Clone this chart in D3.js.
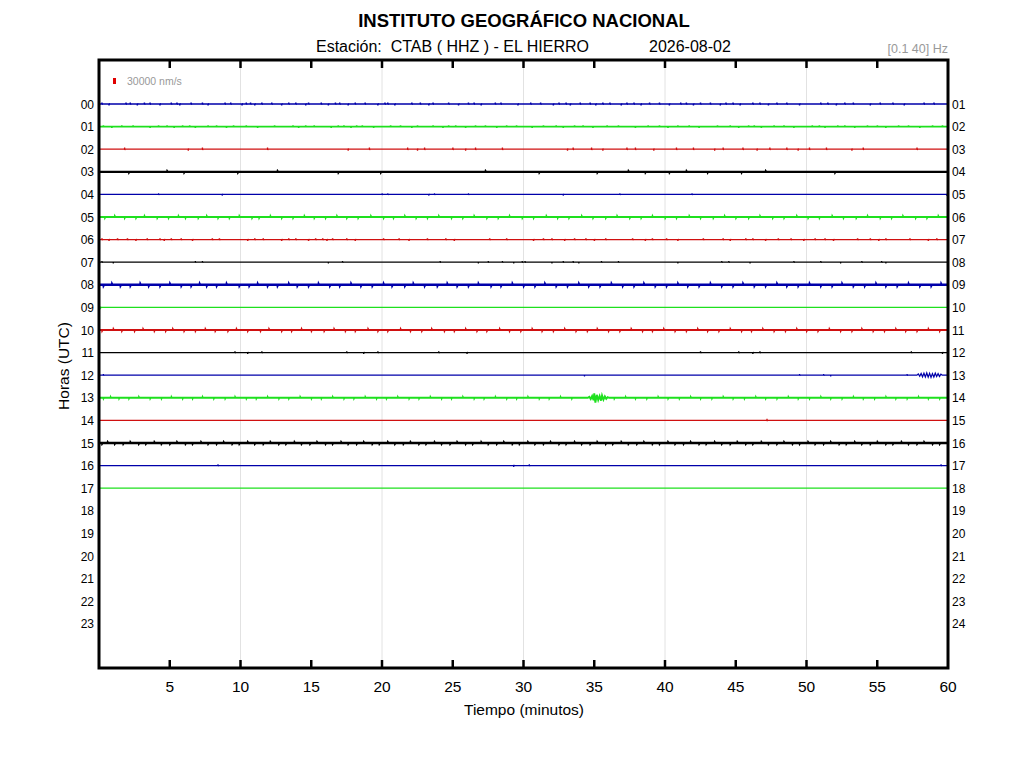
<!DOCTYPE html>
<html>
<head>
<meta charset="utf-8">
<script src="https://cdn.jsdelivr.net/npm/d3@7"></script>
<style>
  body { margin: 0; background: #fff; }
  text { font-family: "Liberation Sans", Arial, sans-serif; }
</style>
</head>
<body>
<script>
var leftLabels = ["00","01","02","03","04","05","06","07","08","09","10","11",
                  "12","13","14","15","16","17","18","19","20","21","22","23"];
var rightLabels = ["01","02","03","04","05","06","07","08","09","10","11","12",
                   "13","14","15","16","17","18","19","20","21","22","23","24"];
var minuteTicks = [5,10,15,20,25,30,35,40,45,50,55,60];
var gridMinutes = [10,20,30,40,50];

// background noise level per hour (nm/s), only hours with data
var rowNoise = [3000,4000,2000,9000,1000,7000,3000,1500,10000,1500,7000,2000,1500,6000,1500,10000,1500,1500];
// typical spike height per hour (nm/s)
var rowSpikeAmp = [7000,6000,8000,3000,6000,4000,6000,6000,4000,4000,4000,6000,6000,4000,8000,3000,7000,0];

// spike positions (minutes)
var rowSpikes = [
  [0.2,0.7,1.9,2.2,2.7,3.2,3.6,4.3,5.1,5.5,5.7,6.5,7.3,7.7,8.9,9.3,10.1,10.4,10.7,11.0,11.5,12.2,12.9,13.4,13.9,14.6,14.8,15.7,16.2,16.7,17.0,17.6,18.1,18.8,19.7,20.2,20.4,20.9,22.1,22.7,23.3,23.6,24.7,25.4,26.1,26.5,27.0,28.0,28.4,29.6,30.5,31.2,32.1,32.5,33.0,33.3,34.0,34.7,35.1,35.6,36.1,36.9,37.3,37.8,38.3,38.9,39.6,40.3,41.1,41.5,42.0,42.5,43.2,43.9,44.3,44.8,45.3,46.2,46.7,47.3,47.9,48.6,49.5,51.0,51.5,52.1,52.7,53.3,54.5,55.2,56.1,56.9,58.3,59.0],
  [0.3,0.9,1.6,2.4,3.6,4.2,4.8,5.3,5.9,6.4,6.8,7.7,8.3,9.0,9.5,10.4,11.2,12.4,13.7,14.1,14.6,15.2,16.4,16.9,17.3,17.8,18.2,18.6,19.4,20.6,21.3,22.1,22.5,23.6,24.3,24.7,25.2,25.9,26.6,27.3,28.1,28.8,29.5,30.6,31.4,32.3,32.8,33.6,34.2,34.9,35.9,36.7,37.9,38.8,39.6,40.2,40.9,41.7,42.4,43.7,44.6,45.2,45.9,46.3,46.8,47.7,48.4,49.1,50.4,50.9,51.3,52.2,52.7,53.4,54.3,55.0,55.6,56.5,57.2,58.0,58.9,59.6],
  [1.8,6.3,7.3,11.9,17.6,19.1,21.8,22.5,23.0,25.0,25.9,26.6,28.5,33.1,33.5,34.8,35.6,37.3,37.9,39.2,40.8,42.0,43.5,44.1,45.5,46.5,47.4,48.6,49.4,50.2,51.4,53.2,54.0,57.8],
  [2.1,4.8,6.0,9.8,12.6,16.9,19.9,27.3,31.1,35.2,37.4,38.6,40.3,41.5,43.0,45.4,47.1,52.0],
  [4.2,8.7,20.0,20.4,23.3,23.7,26.1,32.8,36.8,41.9,59.9],
  [0.4,1.1,1.8,2.6,3.2,4.1,4.9,5.6,6.1,7.0,7.6,8.4,9.2,9.9,10.8,11.3,12.1,12.9,13.7,14.5,15.2,16.0,16.8,17.5,18.3,19.2,20.1,20.8,21.6,22.4,23.2,24.0,24.9,25.7,26.5,27.4,28.2,29.0,29.9,30.7,31.6,32.4,33.2,34.1,34.9,35.8,36.6,37.5,38.3,39.1,40.0,40.8,41.7,42.5,43.4,44.2,45.0,45.9,46.7,47.6,48.4,49.3,50.1,50.9,51.8,52.6,53.5,54.3,55.2,56.0,56.8,57.7,58.5,59.3],
  [0.2,0.7,1.3,2.0,2.6,3.4,4.3,4.6,5.1,5.8,6.6,8.0,8.5,10.5,11.0,11.6,12.9,13.4,13.9,14.8,15.3,15.8,16.1,16.5,17.5,18.1,20.1,21.2,21.9,23.2,24.5,25.1,27.6,28.8,30.7,31.4,32.0,32.9,33.6,34.4,35.0,35.8,37.7,38.6,39.1,40.1,40.9,42.7,44.1,44.6,45.7,46.2,47.1,48.0,48.9,49.8,50.6,51.3,51.9,53.6,54.5,55.1,55.6,57.3,58.6,59.2],
  [0.2,1.0,6.8,7.3,16.2,17.2,24.1,26.8,27.5,28.5,29.3,29.9,30.1,32.0,32.8,33.5,33.9,35.5,36.7,40.9,44.0,44.5,46.0,49.1,51.0,52.4,53.9,55.3,55.6],
  [0.3,0.9,1.5,2.2,2.9,3.5,4.3,5.0,5.8,6.5,7.1,7.6,8.3,9.0,9.9,10.6,11.2,11.9,12.6,13.4,14.0,14.8,15.5,16.3,17.0,17.8,18.5,19.3,20.1,20.7,21.6,22.2,23.0,23.9,24.6,25.3,26.1,26.8,27.7,28.4,29.2,30.0,30.8,31.5,32.3,33.1,33.9,34.6,35.4,36.2,37.0,37.8,38.5,39.3,40.1,40.9,41.6,42.4,43.2,44.0,44.8,45.5,46.3,47.1,47.9,48.6,49.4,50.2,51.0,51.8,52.5,53.3,54.1,54.9,55.6,56.4,57.2,58.0,58.8,59.5],
  [0.1],
  [0.2,1.0,1.6,2.5,3.1,3.9,4.7,5.2,6.0,6.8,7.5,8.2,9.1,9.7,10.5,11.4,12.0,12.9,13.6,14.3,15.0,15.9,16.6,17.4,18.1,19.0,19.7,20.4,21.3,22.0,22.8,23.5,24.4,25.1,25.9,26.7,27.4,28.3,29.0,29.8,30.6,31.3,32.1,32.9,33.7,34.5,35.2,36.0,36.8,37.6,38.4,39.1,39.9,40.7,41.5,42.3,43.0,43.8,44.6,45.4,46.1,46.9,47.7,48.5,49.3,50.0,50.8,51.6,52.4,53.2,53.9,54.7,55.5,56.3,57.0,57.8,58.6,59.4],
  [9.6,10.5,11.5,17.5,18.7,19.7,24.0,26.0,42.5,45.2,46.2,46.7,57.4,59.6],
  [0.3,34.3,49.5,51.2,51.7,57.1],
  [0.3,0.8,1.4,2.1,2.8,3.6,4.4,5.1,5.9,6.6,7.3,8.1,8.9,9.6,10.4,11.1,11.9,12.7,13.4,14.2,15.0,15.7,16.5,17.3,18.0,18.8,19.6,20.3,21.1,21.9,22.6,23.4,24.2,24.9,25.7,26.5,27.2,28.0,28.8,29.5,30.3,31.1,31.8,32.6,33.4,36.4,37.2,37.9,38.7,39.5,40.2,41.0,41.8,42.5,43.3,44.1,44.8,45.6,46.4,47.1,47.9,48.7,49.4,50.2,51.0,51.7,52.5,53.3,54.0,54.8,55.6,56.3,57.1,57.9,58.6,59.4],
  [47.2],
  [0.2,0.6,1.1,1.7,2.2,2.8,3.3,3.9,4.4,5.0,5.5,6.1,6.6,7.2,7.7,8.3,8.8,9.4,9.9,10.5,11.0,11.6,12.1,12.7,13.2,13.8,14.3,14.9,15.4,16.0,16.5,17.1,17.6,18.2,18.7,19.3,19.8,20.4,20.9,21.5,22.0,22.6,23.1,23.7,24.2,24.8,25.3,25.9,26.4,27.0,27.5,28.1,28.6,29.2,29.7,30.3,30.8,31.4,31.9,32.5,33.0,33.6,34.1,34.7,35.2,35.8,36.3,36.9,37.4,38.0,38.5,39.1,39.6,40.2,40.7,41.3,41.8,42.4,42.9,43.5,44.0,44.6,45.1,45.7,46.2,46.8,47.3,47.9,48.4,49.0,49.5,50.1,50.6,51.2,51.7,52.3,52.8,53.4,53.9,54.5,55.0,55.6,56.1,56.7,57.2,57.8,58.3,58.9,59.4],
  [8.4,29.3,30.4,59.5],
  []
];

// larger transients: [minute, nm/s]
var event12 = [[57.8,0],[57.9,6000],[58.0,-5000],[58.1,9000],[58.2,-8000],[58.3,10000],[58.4,-9000],[58.5,11000],[58.6,-10000],[58.7,9000],[58.8,-11000],[58.9,8000],[59.0,-9000],[59.1,10000],[59.2,-7000],[59.3,8000],[59.4,-6000],[59.5,5000],[59.6,0]];
var event13 = [[34.55,0],[34.65,5000],[34.75,-6000],[34.85,9000],[34.95,-12000],[35.0,22000],[35.08,-24000],[35.18,15000],[35.28,-11000],[35.38,9000],[35.48,-14000],[35.55,12000],[35.65,-9000],[35.75,7000],[35.85,-5000],[35.95,3000],[36.05,0]];

var scaleBarValue = 30000; // nm/s
var traceColors = ["#0000aa", "#1ee01e", "#d01010", "#000000"];

// ---- layout ----
var svg = d3.select("body").append("svg")
    .attr("width", 1024)
    .attr("height", 768);

var plotLeft = 99, plotRight = 948, plotTop = 60, plotBottom = 668;

var x = d3.scaleLinear().domain([0, 60]).range([plotLeft, plotRight]);
var y = d3.scaleLinear().domain([0, 23]).range([104, 104 + 23 * 22.6]);
var amp = d3.scaleLinear().domain([0, scaleBarValue]).range([0, 6]);

svg.append("rect").attr("width", 1024).attr("height", 768).attr("fill", "#fff");

// grid
svg.selectAll(".grid").data(gridMinutes).enter().append("line")
    .attr("x1", function(d){ return x(d); })
    .attr("x2", function(d){ return x(d); })
    .attr("y1", plotTop).attr("y2", plotBottom)
    .attr("stroke", "#e2e2e2").attr("stroke-width", 1);

// traces
var line = d3.line()
    .x(function(d){ return x(d[0]); })
    .y(function(d){ return d[1]; });

rowSpikes.forEach(function(spikes, r){
    var base = y(r);
    var a = rowSpikeAmp[r];
    var pts = [[0, 0]];
    spikes.forEach(function(m, i){
        var s = (i % 3 === 1) ? -1 : 1;
        pts.push([m, 0], [m + 0.01, s * a], [m + 0.025, -s * a * 0.5], [m + 0.04, 0]);
    });
    if (r === 12) pts = pts.concat(event12);
    if (r === 13) pts = pts.concat(event13);
    pts.push([60, 0]);
    pts.sort(function(p, q){ return p[0] - q[0]; });
    var drawn = pts.map(function(p){ return [Math.min(60, p[0]), base - amp(p[1])]; });

    svg.append("path")
        .attr("d", line(drawn))
        .attr("fill", "none")
        .attr("stroke", traceColors[r % 4])
        .attr("stroke-width", 1 + rowNoise[r] / 10000 * 1.5);
});

// frame
svg.append("rect")
    .attr("x", plotLeft).attr("y", plotTop)
    .attr("width", plotRight - plotLeft).attr("height", plotBottom - plotTop)
    .attr("fill", "none").attr("stroke", "#000").attr("stroke-width", 3);

// ticks inside top and bottom
var inner = minuteTicks.filter(function(d){ return d < 60; });
svg.selectAll(".tickb").data(inner).enter().append("line")
    .attr("x1", function(d){ return x(d); }).attr("x2", function(d){ return x(d); })
    .attr("y1", plotBottom).attr("y2", plotBottom - 8)
    .attr("stroke", "#000").attr("stroke-width", 2.5);
svg.selectAll(".tickt").data(inner).enter().append("line")
    .attr("x1", function(d){ return x(d); }).attr("x2", function(d){ return x(d); })
    .attr("y1", plotTop).attr("y2", plotTop + 8)
    .attr("stroke", "#000").attr("stroke-width", 2.5);

svg.selectAll(".xlab").data(minuteTicks).enter().append("text")
    .attr("x", function(d){ return x(d); })
    .attr("y", 692)
    .attr("text-anchor", "middle")
    .attr("font-size", 15.5)
    .text(function(d){ return d; });

// hour labels
svg.selectAll(".llab").data(leftLabels).enter().append("text")
    .attr("x", 94)
    .attr("y", function(d, i){ return y(i) + 4.5; })
    .attr("text-anchor", "end")
    .attr("font-size", 12)
    .text(function(d){ return d; });
svg.selectAll(".rlab").data(rightLabels).enter().append("text")
    .attr("x", 952)
    .attr("y", function(d, i){ return y(i) + 4.5; })
    .attr("font-size", 12)
    .text(function(d){ return d; });

// titles
svg.append("text")
    .attr("x", 524).attr("y", 27)
    .attr("text-anchor", "middle")
    .attr("font-size", 18.5).attr("font-weight", "bold")
    .text("INSTITUTO GEOGRÁFICO NACIONAL");
svg.append("text")
    .attr("x", 316).attr("y", 52)
    .attr("font-size", 16)
    .attr("xml:space", "preserve")
    .style("white-space", "pre")
    .text("Estación:  CTAB ( HHZ ) - EL HIERRO");
svg.append("text")
    .attr("x", 649).attr("y", 52)
    .attr("font-size", 16)
    .text("2026-08-02");
svg.append("text")
    .attr("x", 948).attr("y", 53)
    .attr("text-anchor", "end")
    .attr("font-size", 12.5).attr("fill", "#999")
    .text("[0.1 40] Hz");

svg.append("text")
    .attr("x", 524).attr("y", 715)
    .attr("text-anchor", "middle")
    .attr("font-size", 15.5)
    .text("Tiempo (minutos)");
svg.append("text")
    .attr("transform", "translate(69,366) rotate(-90)")
    .attr("text-anchor", "middle")
    .attr("font-size", 15.5)
    .text("Horas (UTC)");

// amplitude scale bar
svg.append("rect")
    .attr("x", 113).attr("y", 84 - amp(scaleBarValue))
    .attr("width", 3).attr("height", amp(scaleBarValue))
    .attr("fill", "#e00000");
svg.append("text")
    .attr("x", 127).attr("y", 85)
    .attr("font-size", 10.5).attr("fill", "#999")
    .text(scaleBarValue + " nm/s");
</script>
</body>
</html>
